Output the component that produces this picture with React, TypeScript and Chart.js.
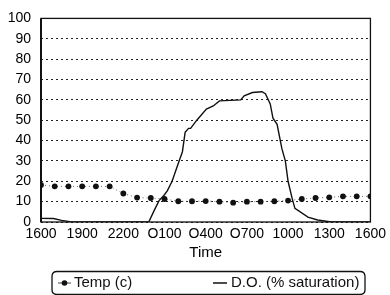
import React, { useEffect, useRef } from 'react';
import { Chart, registerables } from 'chart.js';

Chart.register(...registerables);

const xTickLabels = ['1600', '1900', '2200', 'O100', 'O400', 'O700', '1000', '1300', '1600'];

const tempHours = [0, 1, 2, 3, 4, 5, 6, 7, 8, 9, 10, 11, 12, 13, 14, 15, 16, 17, 18, 19, 20, 21, 22, 23, 24];
const tempValues = [18.2, 17.5, 17.5, 17.5, 17.5, 17.5, 14, 12, 11.8, 11.3, 10.2, 10.2, 10.3, 10, 9.5, 10, 10, 10.2, 10.5, 11.3, 11.8, 12.1, 12.6, 12.6, 12.6];

const doHours = [0, 0.9, 1.5, 2.1, 2.6, 7.85, 8.25, 8.6, 8.95, 9.2, 9.55, 10.05, 10.3, 10.5, 10.75, 10.9, 11.35, 12.05, 12.55, 13.0, 14.55, 14.8, 15.4, 16.1, 16.35, 16.7, 16.9, 17.2, 17.55, 17.8, 18.0, 18.3, 18.5, 19.45, 20.15, 21.15, 24];
const doValues = [1.8, 1.7, 0.8, 0.2, 0, 0, 5.7, 10.5, 13, 15.3, 20, 29.7, 34.4, 44, 46, 46, 50, 55.5, 57, 59.5, 60, 62, 63.6, 64, 63, 58, 51, 48, 36, 30, 20, 11.5, 6.7, 2.4, 1, 0, 0];

const legendLabels = ['Temp (c)', 'D.O. (% saturation)'];
const xTitle = 'Time';

const FONT = '"Liberation Sans", Arial, sans-serif';

const framePlugin = {
  id: 'frameAndLegend',
  afterDraw(chart: any) {
    const { ctx, chartArea } = chart;
    const { left, top, right, bottom } = chartArea;
    ctx.save();
    ctx.strokeStyle = '#111';
    ctx.lineWidth = 1.3;
    ctx.strokeRect(left, top, right - left, bottom - top);
    ctx.lineWidth = 2;
    ctx.beginPath();
    ctx.moveTo(left, top);
    ctx.lineTo(left, bottom);
    ctx.stroke();

    // legend box
    const bx = 52, by = 271.5, bw = 313, bh = 23, r = 5;
    ctx.lineWidth = 1.3;
    ctx.beginPath();
    ctx.moveTo(bx + r, by);
    ctx.lineTo(bx + bw - r, by);
    ctx.quadraticCurveTo(bx + bw, by, bx + bw, by + r);
    ctx.lineTo(bx + bw, by + bh - r);
    ctx.quadraticCurveTo(bx + bw, by + bh, bx + bw - r, by + bh);
    ctx.lineTo(bx + r, by + bh);
    ctx.quadraticCurveTo(bx, by + bh, bx, by + bh - r);
    ctx.lineTo(bx, by + r);
    ctx.quadraticCurveTo(bx, by, bx + r, by);
    ctx.stroke();

    const ly = 283;
    // Temp marker
    ctx.strokeStyle = '#444';
    ctx.lineWidth = 1;
    ctx.beginPath();
    ctx.moveTo(58, ly);
    ctx.lineTo(71, ly);
    ctx.stroke();
    ctx.fillStyle = '#111';
    ctx.beginPath();
    ctx.arc(64.5, ly, 2.8, 0, Math.PI * 2);
    ctx.fill();
    ctx.font = '15px ' + FONT;
    ctx.textBaseline = 'middle';
    ctx.textAlign = 'left';
    ctx.fillText(legendLabels[0], 74, ly);

    // D.O. marker
    ctx.strokeStyle = '#111';
    ctx.lineWidth = 1.5;
    ctx.beginPath();
    ctx.moveTo(213, ly);
    ctx.lineTo(227, ly);
    ctx.stroke();
    ctx.fillText(legendLabels[1], 231, ly);
    ctx.restore();
  },
};

export default function App() {
  const ref = useRef<HTMLCanvasElement>(null);
  useEffect(() => {
    document.body.style.margin = '0';
    const canvas = ref.current;
    if (!canvas) return;
    const chart = new Chart(canvas, {
      type: 'line',
      data: {
        datasets: [
          {
            label: legendLabels[0],
            data: tempHours.map((h, i) => ({ x: h, y: tempValues[i] })),
            showLine: true,
            borderColor: '#666',
            borderWidth: 1,
            borderDash: [1, 3],
            pointRadius: 2.9,
            pointBackgroundColor: '#111',
            pointBorderWidth: 0,
            fill: false,
          },
          {
            label: legendLabels[1],
            data: doHours.map((h, i) => ({ x: h, y: doValues[i] })),
            borderColor: '#111',
            borderWidth: 1.4,
            pointRadius: 0,
            tension: 0,
            fill: false,
          },
        ],
      },
      options: {
        responsive: false,
        animation: false,
        devicePixelRatio: 1,
        layout: { padding: { top: 13, right: 13, bottom: 33, left: 0 } },
        plugins: {
          legend: { display: false },
          tooltip: { enabled: false },
        },
        scales: {
          x: {
            type: 'linear',
            min: 0,
            max: 24,
            afterFit: (s: any) => { s.height = 40; },
            ticks: {
              stepSize: 3,
              autoSkip: false,
              maxRotation: 0,
              padding: 4,
              color: '#000',
              font: { size: 14, family: FONT },
              callback: (v: any) => xTickLabels[Math.round(Number(v) / 3)],
            },
            grid: { display: false, drawTicks: false },
            border: { display: false },
            title: {
              display: true,
              text: xTitle,
              color: '#000',
              font: { size: 15, family: FONT },
              padding: 0,
            },
          },
          y: {
            min: 0,
            max: 100,
            afterFit: (s: any) => { s.width = 41; },
            ticks: {
              stepSize: 10,
              padding: 10,
              color: '#000',
              font: { size: 14, family: FONT },
            },
            grid: { color: '#222', lineWidth: 1, drawTicks: false },
            border: { display: false, dash: [2, 3] },
          },
        },
      },
      plugins: [framePlugin],
    } as any);
    return () => chart.destroy();
  }, []);
  return (
    <div style={{ width: 390, height: 295 }}>
      <canvas ref={ref} width={390} height={295} style={{ display: 'block' }} />
    </div>
  );
}
